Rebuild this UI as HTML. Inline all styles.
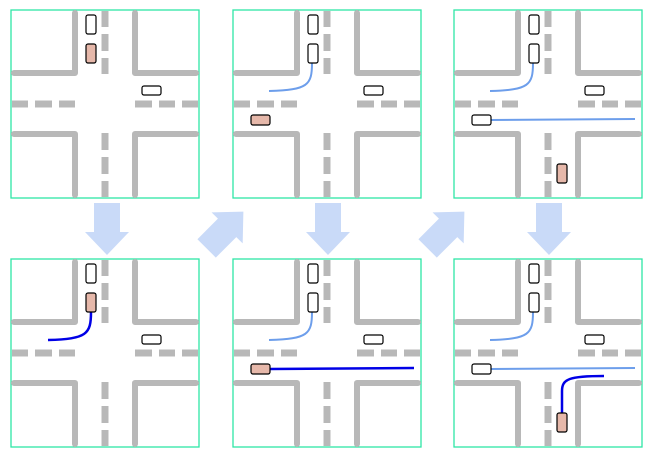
<!DOCTYPE html>
<html><head><style>html,body{margin:0;padding:0;background:#fff}svg{display:block}</style></head><body>
<svg width="652" height="457" viewBox="0 0 652 457" xmlns="http://www.w3.org/2000/svg">
<defs>
<g id="P">
<rect x="0" y="0" width="188" height="188" fill="#fff" stroke="#2ee6a6" stroke-width="1.3"/>
<g stroke="#b8b8b8" stroke-width="6" fill="none" stroke-linecap="round" stroke-linejoin="round">
<polyline points="3,63 64,63 64,3"/>
<polyline points="124,3 124,63 185,63"/>
<polyline points="3,124 64,124 64,185"/>
<polyline points="124,185 124,124 185,124"/>
</g>
<g stroke="#b8b8b8" stroke-width="7" fill="none">
<path d="M94,1V17M94,24V41M94,48V64M94,123V140M94,147V164M94,171V187"/>
<path d="M1,94H17M24,94H41M48,94H64M124,94H141M148,94H164M171,94H187"/>
</g>
</g>
<polygon id="A" points="-13,-26 13,-26 13,3 22,3 0,26 -22,3 -13,3" fill="#c9daf8"/>
</defs>

<g transform="translate(11,10)"><use href="#P"/>
<rect x="75" y="5" width="10" height="19" rx="2" fill="#fff" stroke="#000" stroke-width="1.2"/>
<rect x="75" y="34" width="10" height="19" rx="2" fill="#e6b8aa" stroke="#000" stroke-width="1.2"/>
<rect x="131" y="76" width="19" height="9" rx="2" fill="#fff" stroke="#000" stroke-width="1.2"/>
</g>
<g transform="translate(233,10)"><use href="#P"/>
<path d="M79,53 C79,75 75,80 36,81" stroke="#6d9eeb" stroke-width="2" fill="none"/>
<rect x="75" y="5" width="10" height="19" rx="2" fill="#fff" stroke="#000" stroke-width="1.2"/>
<rect x="75" y="34" width="10" height="19" rx="2" fill="#fff" stroke="#000" stroke-width="1.2"/>
<rect x="131" y="76" width="19" height="9" rx="2" fill="#fff" stroke="#000" stroke-width="1.2"/>
<rect x="18" y="105" width="19" height="10" rx="2" fill="#e6b8aa" stroke="#000" stroke-width="1.2"/>
</g>
<g transform="translate(454,10)"><use href="#P"/>
<path d="M79,53 C79,75 75,80 36,81" stroke="#6d9eeb" stroke-width="2" fill="none"/>
<path d="M37,110 L181,109" stroke="#6d9eeb" stroke-width="2" fill="none"/>
<rect x="75" y="5" width="10" height="19" rx="2" fill="#fff" stroke="#000" stroke-width="1.2"/>
<rect x="75" y="34" width="10" height="19" rx="2" fill="#fff" stroke="#000" stroke-width="1.2"/>
<rect x="131" y="76" width="19" height="9" rx="2" fill="#fff" stroke="#000" stroke-width="1.2"/>
<rect x="18" y="105" width="19" height="10" rx="2" fill="#fff" stroke="#000" stroke-width="1.2"/>
<rect x="103" y="154" width="10" height="19" rx="2" fill="#e6b8aa" stroke="#000" stroke-width="1.2"/>
</g>

<g transform="translate(11,259)"><use href="#P"/>
<path d="M80,53 C80,75 76,80 37,81" stroke="#0000e6" stroke-width="2.5" fill="none"/>
<rect x="75" y="5" width="10" height="19" rx="2" fill="#fff" stroke="#000" stroke-width="1.2"/>
<rect x="75" y="34" width="10" height="19" rx="2" fill="#e6b8aa" stroke="#000" stroke-width="1.2"/>
<rect x="131" y="76" width="19" height="9" rx="2" fill="#fff" stroke="#000" stroke-width="1.2"/>
</g>
<g transform="translate(233,259)"><use href="#P"/>
<path d="M79,53 C79,75 75,80 36,81" stroke="#6d9eeb" stroke-width="2" fill="none"/>
<path d="M37,110 L181,109" stroke="#0000e6" stroke-width="2.5" fill="none"/>
<rect x="75" y="5" width="10" height="19" rx="2" fill="#fff" stroke="#000" stroke-width="1.2"/>
<rect x="75" y="34" width="10" height="19" rx="2" fill="#fff" stroke="#000" stroke-width="1.2"/>
<rect x="131" y="76" width="19" height="9" rx="2" fill="#fff" stroke="#000" stroke-width="1.2"/>
<rect x="18" y="105" width="19" height="10" rx="2" fill="#e6b8aa" stroke="#000" stroke-width="1.2"/>
</g>
<g transform="translate(454,259)"><use href="#P"/>
<path d="M79,53 C79,75 75,80 36,81" stroke="#6d9eeb" stroke-width="2" fill="none"/>
<path d="M37,110 L181,109" stroke="#6d9eeb" stroke-width="2" fill="none"/>
<path d="M108,154 L108,132 C108,120 115,117 150,117" stroke="#0000e6" stroke-width="2.5" fill="none"/>
<rect x="75" y="5" width="10" height="19" rx="2" fill="#fff" stroke="#000" stroke-width="1.2"/>
<rect x="75" y="34" width="10" height="19" rx="2" fill="#fff" stroke="#000" stroke-width="1.2"/>
<rect x="131" y="76" width="19" height="9" rx="2" fill="#fff" stroke="#000" stroke-width="1.2"/>
<rect x="18" y="105" width="19" height="10" rx="2" fill="#fff" stroke="#000" stroke-width="1.2"/>
<rect x="103" y="154" width="10" height="19" rx="2" fill="#e6b8aa" stroke="#000" stroke-width="1.2"/>
</g>

<use href="#A" transform="translate(107,229)"/>
<use href="#A" transform="translate(328,229)"/>
<use href="#A" transform="translate(549,229)"/>
<use href="#A" transform="translate(225,230) rotate(-135)"/>
<use href="#A" transform="translate(446,230) rotate(-135)"/>
</svg>
</body></html>
